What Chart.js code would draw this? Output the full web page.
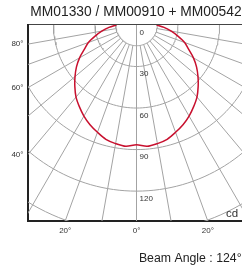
<!DOCTYPE html>
<html>
<head>
<meta charset="utf-8">
<script src="https://cdn.jsdelivr.net/npm/chart.js@4.4.0/dist/chart.umd.min.js"></script>
<style>
  html, body { margin: 0; padding: 0; background: #fff; overflow: hidden; }
  #wrap { width: 272px; height: 271px; }
</style>
</head>
<body>
<div id="wrap"><canvas id="polar"></canvas></div>
<script>
// luminous intensity (cd) against gamma angle
const gammaAngles = [-90,-85,-80,-75,-70,-65,-60,-55,-50,-45,-40,-35,-30,-25,-20,-15,-10,-5,0,5,10,15,20,25,30,35,40,45,50,55,60,65,70,75,80,85,90];
const intensityCd = [14.5,20,25.5,31,37,41.5,47.5,53,58,63,68,72,76,79.5,82.5,85.5,87,88,86.5,88,87,85.5,82.5,79.5,76,72,68,63,58,53,47.5,41.5,37,31,25.5,20,14.5];

const ringValues = [15, 30, 60, 90, 120, 150];
const ringLabels = [0, 30, 60, 90, 120];
const rayAngles = [-80,-70,-60,-50,-40,-30,-20,-10,0,10,20,30,40,50,60,70,80];
const leftTickAngles = [80, 60, 40];
const bottomTickAngles = [-20, 0, 20];
const beamAngle = 124;

const X_MAX = 78.4;   // cd either side of the centre
const Y_MAX = 141.6;  // cd down to the bottom edge
const FONT = '"Liberation Sans", Arial, sans-serif';

const rad = a => a * Math.PI / 180;
const polar = (a, r) => ({ x: r * Math.sin(rad(a)), y: r * Math.cos(rad(a)) });

const datasets = [];

datasets.push({
  data: gammaAngles.map((a, i) => polar(a, intensityCd[i])),
  borderColor: '#c8102e',
  borderWidth: 1.5,
  tension: 0.3,
  order: 0
});

ringValues.forEach(v => {
  const pts = [];
  for (let a = -90; a <= 90; a += 2) pts.push(polar(a, v));
  datasets.push({ data: pts, borderColor: '#a3a3a3', borderWidth: 1, order: 1 });
});

rayAngles.forEach(a => {
  const start = a === 0 ? 0 : ringValues[0];
  datasets.push({ data: [polar(a, start), polar(a, 260)], borderColor: '#a3a3a3', borderWidth: 1, order: 1 });
});

datasets.forEach(d => {
  d.showLine = true;
  d.pointRadius = 0;
  d.fill = false;
  d.clip = 0;
});

const ringText = {
  id: 'ringText',
  afterDatasetsDraw(chart) {
    const { ctx, chartArea } = chart;
    const x = chart.scales.x, y = chart.scales.y;
    ctx.save();
    ctx.fillStyle = '#333';
    ctx.textBaseline = 'middle';
    ctx.textAlign = 'left';
    ctx.font = '8px ' + FONT;
    ringLabels.forEach(v => {
      ctx.fillText(String(v), x.getPixelForValue(0) + 3, y.getPixelForValue(v) + 7.5);
    });
    ctx.font = '11.5px ' + FONT;
    ctx.fillText('cd', chartArea.right - 19, chartArea.bottom - 7.5);
    ctx.restore();
  }
};

new Chart(document.getElementById('polar'), {
  type: 'scatter',
  data: { datasets: datasets },
  options: {
    responsive: true,
    maintainAspectRatio: false,
    animation: false,
    layout: { padding: 0 },
    plugins: {
      legend: { display: false },
      tooltip: { enabled: false },
      title: {
        display: true,
        text: 'MM01330 / MM00910 + MM00542',
        color: '#222',
        font: { size: 13.8, weight: 'normal', family: FONT },
        padding: { top: 4, bottom: 4.4 }
      },
      subtitle: {
        display: true,
        position: 'bottom',
        align: 'end',
        fullSize: false,
        text: 'Beam Angle : ' + beamAngle + '° ',
        color: '#222',
        font: { size: 12.3, weight: 'normal', family: FONT },
        padding: { top: 5.9, bottom: 5.3 }
      }
    },
    scales: {
      x: {
        type: 'linear',
        position: 'bottom',
        min: -X_MAX,
        max: X_MAX,
        grid: { display: false, drawTicks: false },
        border: { color: '#222', width: 2 },
        afterBuildTicks: s => { s.ticks = bottomTickAngles.map(a => ({ value: Y_MAX * Math.tan(rad(a)) })); },
        afterFit: s => { s.height = 24; },
        ticks: {
          autoSkip: false,
          maxRotation: 0,
          padding: 5,
          color: '#333',
          font: { size: 8, family: FONT },
          callback: (v, i) => Math.abs(bottomTickAngles[i]) + '°'
        }
      },
      xTop: {
        type: 'linear',
        position: 'top',
        min: -X_MAX,
        max: X_MAX,
        grid: { display: false, drawTicks: false },
        border: { color: '#444', width: 1 },
        ticks: { display: false },
        afterFit: s => { s.height = 0; }
      },
      y: {
        type: 'linear',
        position: 'left',
        reverse: true,
        min: 0,
        max: Y_MAX,
        grid: { display: false, drawTicks: false },
        border: { color: '#222', width: 2 },
        afterBuildTicks: s => { s.ticks = leftTickAngles.map(a => ({ value: X_MAX / Math.tan(rad(a)) })); },
        afterFit: s => { s.width = 28; },
        ticks: {
          autoSkip: false,
          padding: 4.5,
          color: '#333',
          font: { size: 8, family: FONT },
          callback: (v, i) => leftTickAngles[i] + '°'
        }
      },
      yRight: {
        type: 'linear',
        position: 'right',
        min: 0,
        max: Y_MAX,
        grid: { display: false, drawTicks: false },
        border: { display: false },
        ticks: { display: false },
        afterFit: s => { s.width = 27; }
      }
    }
  },
  plugins: [ringText]
});
</script>
</body>
</html>
